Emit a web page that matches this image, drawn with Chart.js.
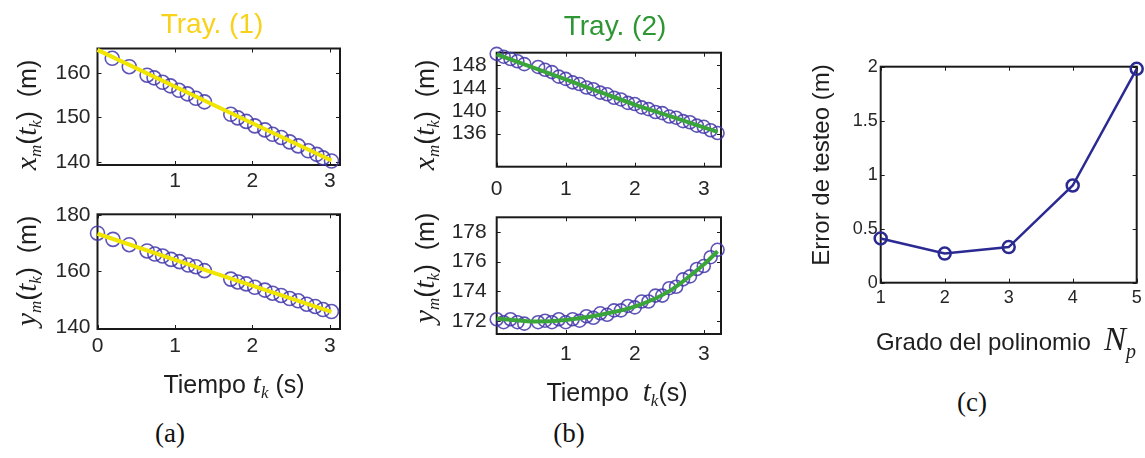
<!DOCTYPE html>
<html>
<head>
<meta charset="utf-8">
<script src="https://cdn.jsdelivr.net/npm/chart.js@4.4.1/dist/chart.umd.min.js"></script>
<style>
  body { margin: 0; background: #fff; }
  #fig { position: relative; width: 1145px; height: 458px; overflow: hidden; }
  canvas { position: absolute; }
  .cap { position: absolute; font-family: "Liberation Serif", "Times New Roman", serif; font-size: 27px; color: #111; transform: translate(-50%, -50%); }
</style>
</head>
<body>
<div id="fig">
  <canvas id="a1" width="370" height="200" style="left:0;top:0"></canvas>
  <canvas id="a2" width="370" height="210" style="left:0;top:200px"></canvas>
  <canvas id="b1" width="370" height="200" style="left:380px;top:0"></canvas>
  <canvas id="b2" width="370" height="210" style="left:380px;top:200px"></canvas>
  <canvas id="c" width="392" height="380" style="left:760px;top:0"></canvas>
  <div class="cap" style="left:170px;top:433px">(a)</div>
  <div class="cap" style="left:569px;top:433px">(b)</div>
  <div class="cap" style="left:972px;top:402px">(c)</div>
</div>
<script>
// (a) Tray. (1) -- measured samples and fitted line
const tA1 = [0.19, 0.41, 0.64, 0.73, 0.84, 0.94, 1.05, 1.16, 1.27, 1.38, 1.72, 1.81, 1.92, 2.03, 2.16, 2.26, 2.37, 2.48, 2.59, 2.72, 2.83, 2.91, 3.02];
const xmA1 = [163.3, 161.4, 159.5, 158.9, 157.9, 157.1, 156.1, 155.3, 154.3, 153.5, 150.7, 149.9, 149.1, 148.1, 147.2, 146.2, 145.5, 144.5, 143.6, 142.5, 141.7, 140.9, 140.2];
const tA2 = [0, 0.2, 0.41, 0.64, 0.74, 0.84, 0.95, 1.06, 1.17, 1.27, 1.38, 1.72, 1.81, 1.92, 2.03, 2.16, 2.26, 2.37, 2.48, 2.59, 2.7, 2.81, 2.91, 3.02];
const ymA2 = [173.5, 171.3, 169.4, 167.2, 166.1, 165.4, 164.2, 163.4, 162.2, 161.6, 160.2, 157.2, 156.2, 155.5, 154.3, 153.3, 152.2, 151.4, 150.3, 149.5, 148.3, 147.5, 146.4, 145.7];
const tFitA = [0, 1.5, 3.02];
const xmFitA = [165.2, 152.8, 140.3];
const ymFitA = [173.3, 159.4, 145.6];

// (b) Tray. (2)
const tB = [0, 0.1, 0.2, 0.3, 0.4, 0.6, 0.7, 0.8, 0.9, 1.0, 1.1, 1.2, 1.3, 1.4, 1.5, 1.6, 1.7, 1.8, 1.9, 2.0, 2.1, 2.2, 2.3, 2.4, 2.5, 2.6, 2.7, 2.8, 2.9, 3.0, 3.1, 3.2];
const xmB = [150.0, 149.5, 149.1, 148.7, 148.2, 147.7, 147.2, 146.8, 146.0, 145.6, 145.0, 144.7, 144.1, 143.8, 143.2, 142.9, 142.3, 142.0, 141.4, 141.2, 140.6, 140.3, 139.8, 139.6, 139.0, 138.8, 138.2, 138.0, 137.4, 137.2, 136.6, 136.1];
const ymB = [172.1, 171.9, 172.1, 171.9, 171.8, 171.9, 172.0, 171.9, 172.1, 171.9, 172.1, 172.0, 172.3, 172.2, 172.5, 172.4, 172.7, 172.7, 173.0, 172.9, 173.3, 173.3, 173.7, 173.7, 174.2, 174.3, 174.8, 175.0, 175.5, 175.7, 176.3, 176.8];
const tFitB = [0, 0.5, 1, 1.5, 2, 2.5, 3, 3.2];
const xmFitB = [149.9, 147.7, 145.5, 143.3, 141.1, 139.1, 137.1, 136.3];
const ymFitB = [172.15, 171.95, 172.05, 172.4, 172.95, 174.0, 175.8, 176.7];

// (c) test error vs polynomial degree
const gradoC = [1, 2, 3, 4, 5];
const errorC = [0.41, 0.27, 0.33, 0.90, 1.98];

// tick values
const xTicksA1 = [1, 2, 3];
const xTicksA2 = [0, 1, 2, 3];
const yTicksA1 = [140, 150, 160];
const yTicksA2 = [140, 160, 180];
const xTicksB1 = [0, 1, 2, 3];
const xTicksB2 = [1, 2, 3];
const yTicksB1 = [136, 140, 144, 148];
const yTicksB2 = [172, 174, 176, 178];
const xTicksC = [1, 2, 3, 4, 5];
const yTicksC = [0, 0.5, 1, 1.5, 2];

const CIRCLE = 'rgba(66,54,168,0.85)';
const YELLOW = '#f1e600';
const GREEN = '#3aa63a';
const NAVY = '#2a2a92';

const sans = s => s + 'px "Liberation Sans", Arial, sans-serif';
const ital = s => 'italic ' + s + 'px "Liberation Serif", "Times New Roman", serif';

const pts = (xs, ys) => xs.map((x, i) => ({ x: x, y: ys[i] }));

function labelVar(v) {
  return [[v, ital(30)], ['m', ital(17), 5], ['(', sans(27)], ['t', ital(29)], ['k', ital(17), 5], [')', sans(27)], ['  (m)', sans(25)]];
}
const UP = -Math.PI / 2;

// free text of each panel (canvas coordinates)
const texts = {
  a1: [
    { x: 212, y: 33, parts: [['Tray. (1)', sans(28)]], color: '#f8d21a' },
    { x: 36, y: 115, rot: UP, parts: labelVar('x') }
  ],
  a2: [
    { x: 36, y: 71, rot: UP, parts: labelVar('y') },
    { x: 234, y: 193, parts: [['Tiempo ', sans(25)], ['t', ital(29)], ['k', ital(17), 5], [' (s)', sans(25)]] }
  ],
  b1: [
    { x: 235, y: 35, parts: [['Tray. (2)', sans(28)]], color: '#2e9634' },
    { x: 54, y: 115, rot: UP, parts: labelVar('x') }
  ],
  b2: [
    { x: 54, y: 68, rot: UP, parts: labelVar('y') },
    { x: 237, y: 201, parts: [['Tiempo  ', sans(25)], ['t', ital(29)], ['k', ital(17), 5], ['(s)', sans(25)]] }
  ],
  c: [
    { x: 69, y: 165, rot: UP, parts: [['Error de testeo (m)', sans(24)]] },
    { x: 246, y: 350, parts: [['Grado del polinomio  ', sans(24)], ['N', ital(33)], ['p', ital(20), 8]] }
  ]
};

const panelText = {
  id: 'panelText',
  beforeDatasetsDraw(chart) {
    const ctx = chart.ctx, a = chart.chartArea, sx = chart.scales.x, sy = chart.scales.y;
    ctx.save();
    ctx.strokeStyle = '#1a1a1a';
    ctx.lineWidth = 1;
    ctx.beginPath();
    sx.ticks.forEach(t => {
      const p = Math.round(sx.getPixelForValue(t.value)) + 0.5;
      ctx.moveTo(p, a.bottom); ctx.lineTo(p, a.bottom - 4);
      ctx.moveTo(p, a.top); ctx.lineTo(p, a.top + 4);
    });
    sy.ticks.forEach(t => {
      const p = Math.round(sy.getPixelForValue(t.value)) + 0.5;
      ctx.moveTo(a.left, p); ctx.lineTo(a.left + 4, p);
      ctx.moveTo(a.right, p); ctx.lineTo(a.right - 4, p);
    });
    ctx.stroke();
    ctx.lineWidth = 2;
    ctx.strokeRect(a.left, a.top, a.right - a.left, a.bottom - a.top);
    ctx.restore();
  },
  afterDraw(chart) {
    const ctx = chart.ctx;
    (texts[chart.canvas.id] || []).forEach(it => {
      ctx.save();
      ctx.translate(it.x, it.y);
      if (it.rot) ctx.rotate(it.rot);
      let w = 0;
      it.parts.forEach(p => { ctx.font = p[1]; w += ctx.measureText(p[0]).width; });
      let cx = -w / 2;
      ctx.fillStyle = it.color || '#1e1e1e';
      ctx.textBaseline = 'alphabetic';
      ctx.textAlign = 'left';
      it.parts.forEach(p => {
        ctx.font = p[1];
        ctx.fillText(p[0], cx, p[2] || 0);
        cx += ctx.measureText(p[0]).width;
      });
      ctx.restore();
    });
  }
};

function makePanel(id, o) {
  const cv = document.getElementById(id);
  const W = cv.width, H = cv.height;
  const tickFont = { family: '"Liberation Sans", Arial, sans-serif', size: o.tickSize };
  new Chart(cv, {
    type: 'scatter',
    data: { datasets: o.datasets },
    options: {
      responsive: false,
      animation: false,
      devicePixelRatio: 1,
      layout: { padding: { left: 0, top: o.box.top, right: W - o.box.right, bottom: 0 } },
      plugins: { legend: { display: false }, tooltip: { enabled: false } },
      scales: {
        x: {
          type: 'linear', min: o.xMin, max: o.xMax,
          grid: { display: false, drawTicks: false }, border: { display: false },
          ticks: { font: tickFont, color: '#262626', padding: o.xPad, autoSkip: false, maxRotation: 0, callback: v => String(v) },
          afterBuildTicks: s => { s.ticks = o.xTicks.map(v => ({ value: v })); },
          afterFit: s => { s.height = H - o.box.bottom; s.paddingLeft = 0; s.paddingRight = 0; }
        },
        y: {
          type: 'linear', min: o.yMin, max: o.yMax,
          grid: { display: false, drawTicks: false }, border: { display: false },
          ticks: { font: tickFont, color: '#262626', padding: o.yPad, autoSkip: false, callback: v => String(v) },
          afterBuildTicks: s => { s.ticks = o.yTicks.map(v => ({ value: v })); },
          afterFit: s => { s.width = o.box.left; s.paddingTop = 0; s.paddingBottom = 0; }
        }
      }
    },
    plugins: [panelText]
  });
}

function fitLine(data, color, tension) {
  return { data: data, showLine: true, borderColor: color, borderWidth: 4, pointRadius: 0, tension: tension, clip: false };
}
function circles(data, r) {
  return { data: data, showLine: false, pointStyle: 'circle', pointRadius: r, pointBorderWidth: 1.6,
           borderColor: CIRCLE, backgroundColor: 'rgba(0,0,0,0)', clip: false };
}

makePanel('a1', {
  box: { left: 97.5, top: 48.5, right: 340, bottom: 165 },
  xMin: 0, xMax: 3.13, yMin: 139.3, yMax: 165.5,
  xTicks: xTicksA1, yTicks: yTicksA1, tickSize: 21, xPad: 4, yPad: 7,
  datasets: [fitLine(pts(tFitA, xmFitA), YELLOW, 0), circles(pts(tA1, xmA1), 7)]
});
makePanel('a2', {
  box: { left: 97.5, top: 14.3, right: 340, bottom: 129 },
  xMin: 0, xMax: 3.13, yMin: 139.5, yMax: 180.2,
  xTicks: xTicksA2, yTicks: yTicksA2, tickSize: 21, xPad: 5, yPad: 7,
  datasets: [fitLine(pts(tFitA, ymFitA), YELLOW, 0), circles(pts(tA2, ymA2), 7)]
});
makePanel('b1', {
  box: { left: 116.7, top: 52.7, right: 341, bottom: 166.7 },
  xMin: 0, xMax: 3.25, yMin: 130.2, yMax: 150.2,
  xTicks: xTicksB1, yTicks: yTicksB1, tickSize: 21, xPad: 10, yPad: 10,
  datasets: [fitLine(pts(tFitB, xmFitB), GREEN, 0.3), circles(pts(tB, xmB), 6.5)]
});
makePanel('b2', {
  box: { left: 116.7, top: 17.3, right: 341, bottom: 134 },
  xMin: 0, xMax: 3.25, yMin: 171.1, yMax: 179,
  xTicks: xTicksB2, yTicks: yTicksB2, tickSize: 21, xPad: 8, yPad: 10,
  datasets: [fitLine(pts(tFitB, ymFitB), GREEN, 0.3), circles(pts(tB, ymB), 6.5)]
});
makePanel('c', {
  box: { left: 120.7, top: 66.7, right: 376.7, bottom: 282.7 },
  xMin: 1, xMax: 5, yMin: 0, yMax: 2,
  xTicks: xTicksC, yTicks: yTicksC, tickSize: 18, xPad: 5, yPad: 3,
  datasets: [{
    data: pts(gradoC, errorC), showLine: true, borderColor: NAVY, borderWidth: 2.5,
    pointStyle: 'circle', pointRadius: 6, pointBorderWidth: 2.5, pointBorderColor: NAVY,
    pointBackgroundColor: 'rgba(0,0,0,0)', tension: 0, clip: false
  }]
});
</script>
</body>
</html>
